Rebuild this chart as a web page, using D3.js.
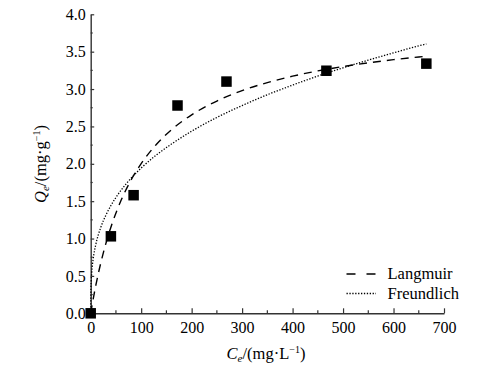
<!DOCTYPE html>
<html>
<head>
<meta charset="utf-8">
<script src="https://cdn.jsdelivr.net/npm/d3@7"></script>
<style>
body { margin: 0; background: #fff; }
svg text { font-family: "Liberation Serif", "Times New Roman", serif; fill: #000; }
</style>
</head>
<body>
<div id="chart"></div>
<script>
// measured points
var ce = [0, 40, 85, 172, 269, 467, 665];
var qe = [0, 1.03, 1.58, 2.78, 3.10, 3.245, 3.34];

// fitted curves
var langC = [0, 2, 5, 10, 20, 30, 40, 60, 80, 100, 130, 160, 200, 250, 300, 350, 400, 450, 500, 550, 600, 650, 665];
var langQ = [0, 0.080, 0.194, 0.369, 0.675, 0.932, 1.152, 1.508, 1.783, 2.002, 2.258, 2.455, 2.655, 2.840, 2.979, 3.086, 3.172, 3.243, 3.301, 3.350, 3.393, 3.429, 3.439];
var freuC = [0, 0.01, 0.1, 0.5, 1, 2, 5, 10, 20, 30, 40, 60, 80, 100, 130, 160, 200, 250, 300, 350, 400, 450, 500, 550, 600, 650, 665];
var freuQ = [0, 0.097, 0.204, 0.345, 0.433, 0.543, 0.732, 0.917, 1.150, 1.312, 1.441, 1.645, 1.807, 1.943, 2.117, 2.264, 2.436, 2.620, 2.779, 2.924, 3.053, 3.174, 3.284, 3.387, 3.484, 3.578, 3.603];

var xTicks = [0, 100, 200, 300, 400, 500, 600, 700];
var xMinor = [50, 150, 250, 350, 450, 550, 650];
var yTicks = [0, 0.5, 1.0, 1.5, 2.0, 2.5, 3.0, 3.5, 4.0];
var yMinor = [0.25, 0.75, 1.25, 1.75, 2.25, 2.75, 3.25, 3.75];
var legendNames = ["Langmuir", "Freundlich"];

var drawChart = function () {
	var W = 491, H = 371;
	var pLeft = 90.7, pRight = 444, pTop = 14.3, pBottom = 313.3;
	var serif = "'Liberation Serif', 'Times New Roman', serif";

	var svg = d3.select("#chart").append("svg")
		.attr("width", W)
		.attr("height", H);

	var x = d3.scaleLinear().domain([0, 700]).range([pLeft, pRight]);
	var y = d3.scaleLinear().domain([0, 4]).range([pBottom, pTop]);

	var axisCol = "#333";

	// x axis, ticks inward
	var gx = svg.append("g").attr("transform", "translate(0," + pBottom + ")");
	gx.call(d3.axisBottom(x).tickValues(xTicks).tickSize(-5).tickSizeOuter(0).tickPadding(8)
		.tickFormat(d3.format("d")));
	gx.append("g").selectAll("line").data(xMinor).enter().append("line")
		.attr("x1", function (d) { return x(d); })
		.attr("x2", function (d) { return x(d); })
		.attr("y1", 0).attr("y2", -3);

	// y axis
	var gy = svg.append("g").attr("transform", "translate(" + pLeft + ",0)");
	gy.call(d3.axisLeft(y).tickValues(yTicks).tickSize(-3.5).tickSizeOuter(0).tickPadding(5)
		.tickFormat(d3.format(".1f")));
	gy.append("g").selectAll("line").data(yMinor).enter().append("line")
		.attr("y1", function (d) { return y(d); })
		.attr("y2", function (d) { return y(d); })
		.attr("x1", 0).attr("x2", 2);

	svg.selectAll(".domain").attr("stroke", axisCol).attr("stroke-width", 1.4);
	gx.selectAll("line").attr("stroke", axisCol).attr("stroke-width", 1.2);
	gy.selectAll("line").attr("stroke", axisCol).attr("stroke-width", 1.2);
	gx.attr("font-family", serif);
	gy.attr("font-family", serif);
	svg.selectAll(".tick text")
		.style("font-family", serif)
		.style("font-size", "16px")
		.attr("fill", "#000");

	// curves
	var line = d3.line()
		.x(function (d) { return x(d[0]); })
		.y(function (d) { return y(d[1]); })
		.curve(d3.curveMonotoneX);

	svg.append("path")
		.datum(d3.zip(freuC, freuQ))
		.attr("d", line)
		.attr("fill", "none")
		.attr("stroke", "#000")
		.attr("stroke-width", 1.3)
		.attr("stroke-dasharray", "1.3,1.6");

	svg.append("path")
		.datum(d3.zip(langC, langQ))
		.attr("d", line)
		.attr("fill", "none")
		.attr("stroke", "#000")
		.attr("stroke-width", 1.4)
		.attr("stroke-dasharray", "8,6");

	// squares
	var s = 10.5;
	svg.append("g").selectAll("rect").data(d3.zip(ce, qe)).enter().append("rect")
		.attr("x", function (d) { return x(d[0]) - s / 2; })
		.attr("y", function (d) { return y(d[1]) - s / 2; })
		.attr("width", s)
		.attr("height", s)
		.attr("fill", "#000");

	// legend
	var lg = svg.append("g");
	var lgY = [274, 293.5];
	var lgDash = ["9,11", "1.3,1.6"];
	lg.selectAll("line").data(legendNames).enter().append("line")
		.attr("x1", 346.5).attr("x2", 376)
		.attr("y1", function (d, i) { return lgY[i]; })
		.attr("y2", function (d, i) { return lgY[i]; })
		.attr("stroke", "#000")
		.attr("stroke-width", 1.3)
		.attr("stroke-dasharray", function (d, i) { return lgDash[i]; });
	lg.selectAll("text").data(legendNames).enter().append("text")
		.attr("x", 387.5)
		.attr("y", function (d, i) { return lgY[i] + 5; })
		.style("font-family", serif)
		.style("font-size", "16.5px")
		.text(function (d) { return d; });

	// axis titles
	var xt = svg.append("text")
		.attr("x", 266)
		.attr("y", 359)
		.attr("text-anchor", "middle")
		.style("font-family", serif)
		.style("font-size", "16.5px");
	xt.append("tspan").style("font-style", "italic").text("C");
	xt.append("tspan").style("font-style", "italic").style("font-size", "11px").attr("dy", 3).text("e");
	xt.append("tspan").attr("dy", -3).text("/(mg·L");
	xt.append("tspan").style("font-size", "10px").attr("dy", -6).text("−1");
	xt.append("tspan").attr("dy", 6).text(")");

	var yt = svg.append("text")
		.attr("transform", "translate(46,164) rotate(-90)")
		.attr("text-anchor", "middle")
		.style("font-family", serif)
		.style("font-size", "16.5px");
	yt.append("tspan").style("font-style", "italic").text("Q");
	yt.append("tspan").style("font-style", "italic").style("font-size", "11px").attr("dy", 3).text("e");
	yt.append("tspan").attr("dy", -3).text("/(mg·g");
	yt.append("tspan").style("font-size", "10px").attr("dy", -6).text("−1");
	yt.append("tspan").attr("dy", 6).text(")");
};

drawChart();
</script>
</body>
</html>
